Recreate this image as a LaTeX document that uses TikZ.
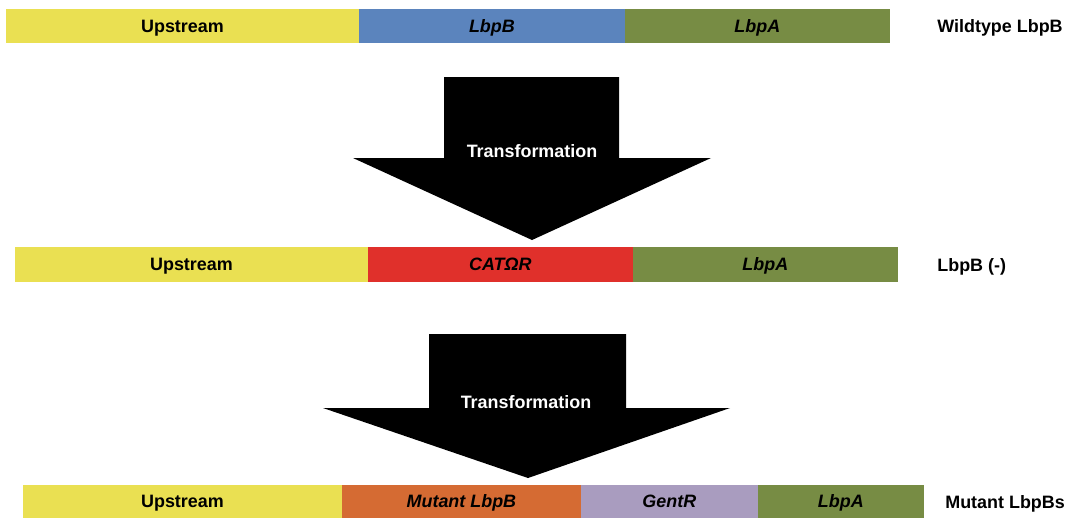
\documentclass[tikz,border=0pt]{standalone}
\usepackage{fontspec}
\setmainfont{Liberation Sans}
\usetikzlibrary{positioning}

\definecolor{upyellow}{HTML}{EAE052}
\definecolor{lbpbblue}{HTML}{5B84BD}
\definecolor{lbpagreen}{HTML}{778C44}
\definecolor{catred}{HTML}{E0302B}
\definecolor{mutorange}{HTML}{D56B33}
\definecolor{gentlav}{HTML}{A99CBF}

\tikzset{
  seg/.style={rectangle, inner sep=0pt, outer sep=0pt, minimum height=0.68cm, text height=0.72em, text depth=0pt, font=\fontsize{10.2}{12}\selectfont\bfseries\itshape},
  upseg/.style={seg, fill=upyellow, font=\fontsize{10.2}{12}\selectfont\bfseries},
  rowlabel/.style={anchor=west, inner sep=0pt, text height=0.72em, text depth=0pt, font=\fontsize{10.2}{12}\selectfont\bfseries},
  bigarrow/.style={fill=black},
  arrowtext/.style={text=white, inner sep=0pt, text height=0.72em, text depth=0pt, font=\fontsize{10.2}{12}\selectfont\bfseries}
}

\begin{document}
\begin{tikzpicture}[x=0.02cm, y=-0.02cm, node distance=0pt]
    \useasboundingbox (0,0) rectangle (1071,518);

    % Nodes
    \node (up1) [upseg, minimum width=7.06cm, anchor=west] at (6,26) {Upstream};
    \node (lbpb1) [seg, fill=lbpbblue, minimum width=5.32cm, right=of up1] {LbpB};
    \node (lbpa1) [seg, fill=lbpagreen, minimum width=5.30cm, right=of lbpb1] {LbpA};
    \node (wild) [rowlabel] at (937,26) {Wildtype LbpB};

    \node (up2) [upseg, minimum width=7.06cm, minimum height=0.70cm, anchor=west] at (15,264.5) {Upstream};
    \node (cat2) [seg, fill=catred, minimum width=5.30cm, minimum height=0.70cm, right=of up2] {CATΩR};
    \node (lbpa2) [seg, fill=lbpagreen, minimum width=5.30cm, minimum height=0.70cm, right=of cat2] {LbpA};
    \node (minus) [rowlabel] at (937,265) {LbpB (-)};

    \node (up3) [upseg, minimum width=6.38cm, minimum height=0.66cm, anchor=west] at (23,501.5) {Upstream};
    \node (mut3) [seg, fill=mutorange, minimum width=4.78cm, minimum height=0.66cm, right=of up3] {Mutant LbpB};
    \node (gent3) [seg, fill=gentlav, minimum width=3.54cm, minimum height=0.66cm, right=of mut3] {GentR};
    \node (lbpa3) [seg, fill=lbpagreen, minimum width=3.32cm, minimum height=0.66cm, right=of gent3] {LbpA};
    \node (mutants) [rowlabel] at (945,502) {Mutant LbpBs};

    % Arrows
    \fill[bigarrow] (444,77) -- (619,77) -- (619,158) -- (711,158) -- (532,240) -- (353,158) -- (444,158) -- cycle;
    \node (trans1) [arrowtext] at (532,151) {Transformation};
    \fill[bigarrow] (429,334) -- (626,334) -- (626,408) -- (730,408) -- (528,478) -- (323,408) -- (429,408) -- cycle;
    \node (trans2) [arrowtext] at (526,402) {Transformation};
\end{tikzpicture}
\end{document}
